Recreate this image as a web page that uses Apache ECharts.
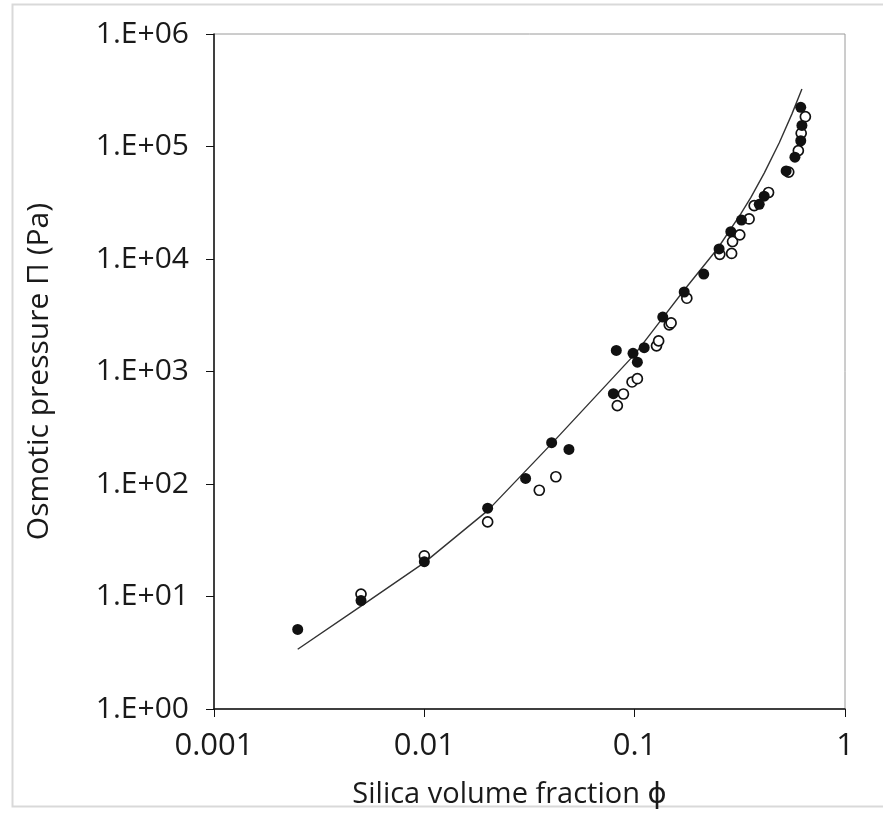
<!DOCTYPE html>
<html>
<head>
<meta charset="utf-8">
<script src="https://cdn.jsdelivr.net/npm/echarts@6/dist/echarts.min.js"></script>
<style>
html,body{margin:0;padding:0;background:#fff;}
#chart{width:883px;height:815px;}
</style>
</head>
<body>
<div id="chart"></div>
<script>
// Filled circles: [phi, Pi (Pa)]
var filledPoints = [
  [0.0025, 5.1], [0.005, 9.2], [0.01, 20.4], [0.02, 61], [0.0303, 112],
  [0.0403, 233], [0.0487, 203], [0.0792, 635], [0.0818, 1540], [0.0982, 1450],
  [0.103, 1210], [0.111, 1630], [0.136, 3050], [0.172, 5090], [0.213, 7350],
  [0.252, 12300], [0.2865, 17500], [0.322, 22200], [0.391, 30600], [0.413, 36200],
  [0.525, 60600], [0.578, 80300], [0.616, 112500], [0.624, 154000], [0.616, 223000]
];
// Open circles: [phi, Pi (Pa)]
var openPoints = [
  [0.005, 10.5], [0.01, 23], [0.02, 46], [0.0352, 88], [0.0422, 116],
  [0.0827, 497], [0.0884, 631], [0.0972, 807], [0.103, 863], [0.127, 1690],
  [0.130, 1870], [0.146, 2600], [0.149, 2700], [0.177, 4480], [0.254, 11000],
  [0.289, 11200], [0.292, 14300], [0.316, 16400], [0.35, 22700], [0.37, 29800],
  [0.433, 39000], [0.540, 59300], [0.600, 91800], [0.619, 131000], [0.648, 184000]
];
// Model curve: [phi, Pi (Pa)]
var curvePoints = [
  [0.0025, 3.4], [0.005, 8.2], [0.01, 20], [0.02, 58], [0.04, 225],
  [0.1, 1420], [0.136, 3000], [0.172, 5300], [0.248, 12400], [0.32, 25300],
  [0.357, 35300], [0.413, 58000], [0.487, 108000], [0.559, 194000], [0.624, 325000]
];
var xTickLabels = ['0.001', '0.01', '0.1', '1'];
var yTickLabels = ['1.E+00', '1.E+01', '1.E+02', '1.E+03', '1.E+04', '1.E+05', '1.E+06'];

var chart = echarts.init(document.getElementById('chart'), null, {renderer: 'canvas'});
var font = '"Open Sans", "DejaVu Sans", sans-serif';
var option = {
  backgroundColor: '#fff',
  animation: false,
  graphic: [{
    type: 'rect',
    shape: {x: 12.5, y: 4.5, width: 900, height: 802},
    style: {fill: 'none', stroke: '#d9d9d9', lineWidth: 2},
    silent: true, z: -10
  }],
  grid: {
    left: 214, right: 38, top: 34, bottom: 106,
    show: true, borderColor: '#9a9a9a', borderWidth: 1, backgroundColor: 'transparent'
  },
  xAxis: {
    type: 'log', logBase: 10, min: 0.001, max: 1, interval: 1,
    name: 'Silica volume fraction \u03D5',
    nameLocation: 'middle', nameGap: 71,
    nameTextStyle: {fontFamily: font, fontSize: 29, color: '#1a1a1a', padding: [0, 40, 0, 0]},
    axisLine: {show: true, lineStyle: {color: '#111', width: 1.5}},
    axisTick: {show: true, inside: false, length: 8, lineStyle: {color: '#111', width: 1}},
    splitLine: {show: false},
    minorTick: {show: false},
    axisLabel: {
      margin: 22, fontFamily: font, fontSize: 31, color: '#1a1a1a',
      formatter: function (v) {
        var i = Math.round(Math.log10(v)) + 3;
        return xTickLabels[i] !== undefined ? xTickLabels[i] : '';
      }
    }
  },
  yAxis: {
    type: 'log', logBase: 10, min: 1, max: 1000000, interval: 1,
    name: 'Osmotic pressure \u03A0 (Pa)',
    nameLocation: 'middle', nameGap: 160, nameRotate: 90,
    nameTextStyle: {fontFamily: font, fontSize: 30, color: '#1a1a1a'},
    axisLine: {show: true, lineStyle: {color: '#111', width: 1.5}},
    axisTick: {show: true, inside: false, length: 8, lineStyle: {color: '#111', width: 1}},
    splitLine: {show: false},
    minorTick: {show: false},
    axisLabel: {
      margin: 25, fontFamily: font, fontSize: 30, color: '#1a1a1a',
      formatter: function (v) {
        var i = Math.round(Math.log10(v));
        return yTickLabels[i] !== undefined ? yTickLabels[i] : '';
      }
    }
  },
  series: [
    {
      type: 'line', data: curvePoints, showSymbol: false, symbol: 'none',
      smooth: false, lineStyle: {color: '#333', width: 1.4}, z: 2
    },
    {
      type: 'scatter', data: openPoints, symbol: 'circle', symbolSize: 10,
      itemStyle: {color: '#fff', borderColor: '#111', borderWidth: 1.7, opacity: 1}, z: 3
    },
    {
      type: 'scatter', data: filledPoints, symbol: 'circle', symbolSize: 11,
      itemStyle: {color: '#111', borderColor: '#111', borderWidth: 0, opacity: 1}, z: 4
    }
  ]
};
chart.setOption(option);
</script>
</body>
</html>
